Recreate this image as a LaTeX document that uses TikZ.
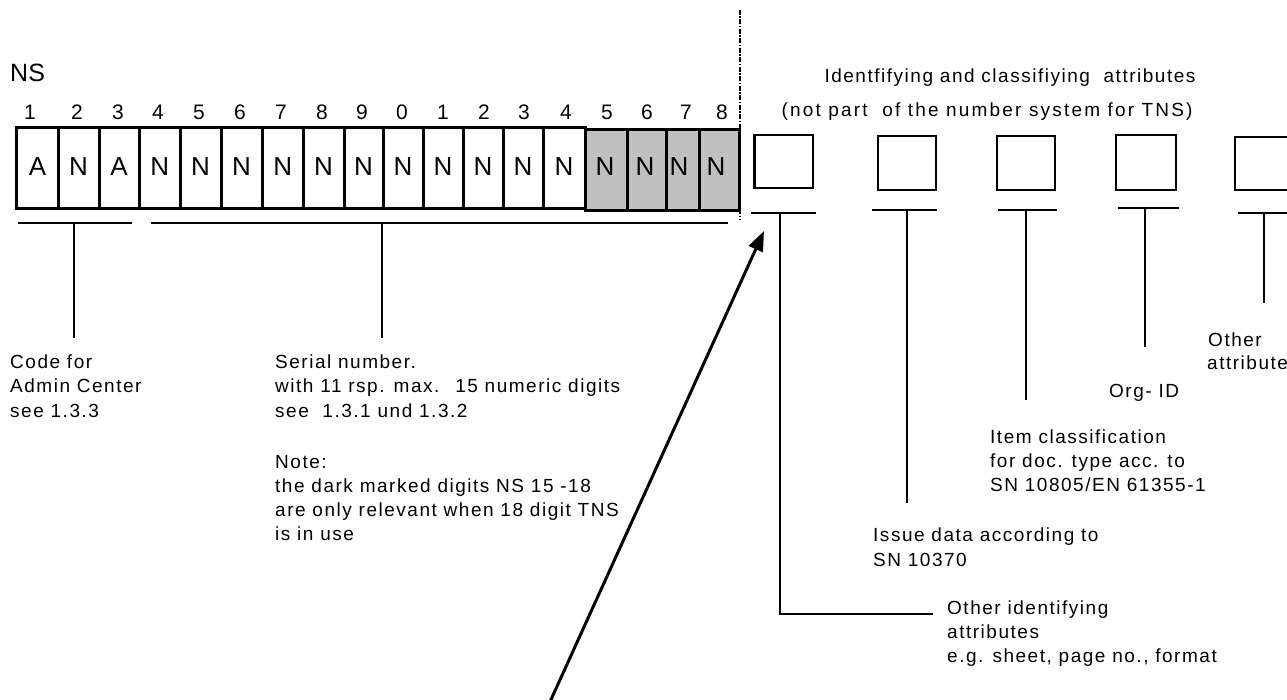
\documentclass[tikz,border=0pt]{standalone}
\usepackage{fontspec}
\setmainfont{Liberation Sans}
\newfontfamily\lblfont[LetterSpace=8]{Liberation Sans}
\newfontfamily\widefont[LetterSpace=11.5]{Liberation Sans}
\usetikzlibrary{arrows.meta}
\definecolor{cellgray}{HTML}{C0C0C0}
\tikzset{
  lbl/.style={anchor=base west, inner sep=0pt, font=\lblfont\fontsize{19}{23}\selectfont},
  ctitle/.style={anchor=base, inner sep=0pt, font=\lblfont\fontsize{19}{23}\selectfont},
  digit/.style={anchor=base, inner sep=0pt, font=\fontsize{21}{25}\selectfont},
  celltext/.style={anchor=base, inner sep=0pt, font=\fontsize{26}{30}\selectfont},
  heavy/.style={line width=3pt},
  thin/.style={line width=2pt},
  boxline/.style={line width=2.2pt},
}
\begin{document}
\begin{tikzpicture}[x=1pt,y=-1pt]
\useasboundingbox (0,0) rectangle (1287,700);
% title NS
\node[anchor=base west, inner sep=0pt, font=\fontsize{25}{29}\selectfont] (ns) at (10,82) {NS};
% digits
\foreach \x/\d [count=\i] in {30/1,77/2,118/3,158/4,199/5,240/6,281/7,322/8,362/9,402/0,443/1,484/2,524/3,566/4,607/5,647/6,686/7,722/8}
  \node[digit] (d\i) at (\x,120) {\d};
% cells
\filldraw[fill=cellgray, heavy] (585,130) rectangle (739,211);
\foreach \x in {627,666,699} \draw[heavy] (\x,130) -- (\x,211);
\draw[heavy] (16.7,128) rectangle (585,209);
\foreach \x in {58.3,99,139.3,180.3,221,262.3,303.3,344,383,423,463,503,543} \draw[heavy] (\x,128) -- (\x,209);
\foreach \x/\t [count=\i] in {37.5/A,78.6/N,119/A,159.8/N,200.6/N,241.6/N,282.8/N,323.6/N,363.5/N,403/N,443/N,483/N,523/N,564/N,605/N,645/N,679/N,716/N}
  \node[celltext] (c\i) at (\x,176) {\t};
% dash-dot separator
\coordinate (sepTop) at (740,10);
\coordinate (sepBot) at (740,220);
\draw[thin, dash pattern=on 5pt off 1.5pt on 1.5pt off 1.5pt] (sepTop) -- (sepBot);
% left brackets
\coordinate (aL) at (18,223); \coordinate (aR) at (132,223);
\coordinate (aT) at (74,223); \coordinate (aB) at (74,338);
\draw[thin] (aL) -- (aR); \draw[thin] (aT) -- (aB);
\coordinate (sL) at (151,223); \coordinate (sR) at (728,223);
\coordinate (sT) at (382,223); \coordinate (sB) at (382,338);
\draw[thin] (sL) -- (sR); \draw[thin] (sT) -- (sB);
% left texts
\node[lbl] (code1) at (10,368) {Code for};
\node[lbl] (code2) at (10,392.5) {Admin Center};
\node[lbl] (code3) at (10,417) {see 1.3.3};
\node[lbl] (ser1) at (275,368) {Serial number.};
\node[lbl] (ser2) at (275,392.5) {with 11 rsp. max.~ 15 numeric digits};
\node[lbl] (ser3) at (275,417) {see~ 1.3.1 und 1.3.2};
\node[lbl] (note0) at (275,468) {Note:};
\node[lbl] (note1) at (275,492) {the dark marked digits NS 15 -18};
\node[lbl] (note2) at (275,516) {are only relevant when 18 digit TNS};
\node[lbl] (note3) at (275,540) {is in use};
% right titles
\node[ctitle] (rt1) at (1010,83) {Identfifying and classifiying~ attributes};
\node[ctitle, font=\widefont\fontsize{19}{23}\selectfont] (rt2) at (987,117) {(not part~ of the number system for TNS)};
% small boxes
\draw[boxline] (754.5,135) rectangle (812.7,188);
\draw[boxline] (878,136) rectangle (936,190);
\draw[boxline] (997,136) rectangle (1055,190);
\draw[boxline] (1116,135) rectangle (1176,190);
\draw[boxline] (1290,137) -- (1235,137) -- (1235,190) -- (1290,190);
% lines under boxes
\draw[thin] (751,213) -- (816,213);
\draw[thin] (872,210) -- (937,210);
\draw[thin] (998,210) -- (1057,210);
\draw[thin] (1118,208) -- (1179,208);
\draw[thin] (1238,213) -- (1290,213);
% verticals
\coordinate (v1t) at (780,213); \coordinate (v1b) at (780,614); \coordinate (v1e) at (933,614);
\draw[thin] (v1t) -- (v1b) -- (v1e);
\coordinate (v2t) at (907,210); \coordinate (v2b) at (907,503);
\draw[thin] (v2t) -- (v2b);
\coordinate (v3t) at (1026,210); \coordinate (v3b) at (1026,400);
\draw[thin] (v3t) -- (v3b);
\coordinate (v4t) at (1145,208); \coordinate (v4b) at (1145,347);
\draw[thin] (v4t) -- (v4b);
\coordinate (v5t) at (1264,213); \coordinate (v5b) at (1264,303);
\draw[thin] (v5t) -- (v5b);
% right texts
\node[lbl] (oa1) at (1208,347) {Other};
\node[lbl] (oa2) at (1207,370) {attributes};
\node[lbl] (org) at (1109,397) {Org- ID};
\node[lbl] (ic1) at (990,443) {Item classification};
\node[lbl] (ic2) at (990,467) {for doc. type acc. to};
\node[lbl] (ic3) at (990,491) {SN 10805/EN 61355-1};
\node[lbl] (is1) at (873,541) {Issue data according to};
\node[lbl] (is2) at (873,566) {SN 10370};
\node[lbl] (oi1) at (947,614) {Other identifying};
\node[lbl] (oi2) at (947,638) {attributes};
\node[lbl] (oi3) at (947,662) {e.g. sheet, page no., format};
% arrow
\coordinate (atail) at (549,704);
\coordinate (ahead) at (764,231);
\draw[heavy, -{Triangle[length=20pt,width=15pt]}] (atail) -- (ahead);
\end{tikzpicture}
\end{document}
